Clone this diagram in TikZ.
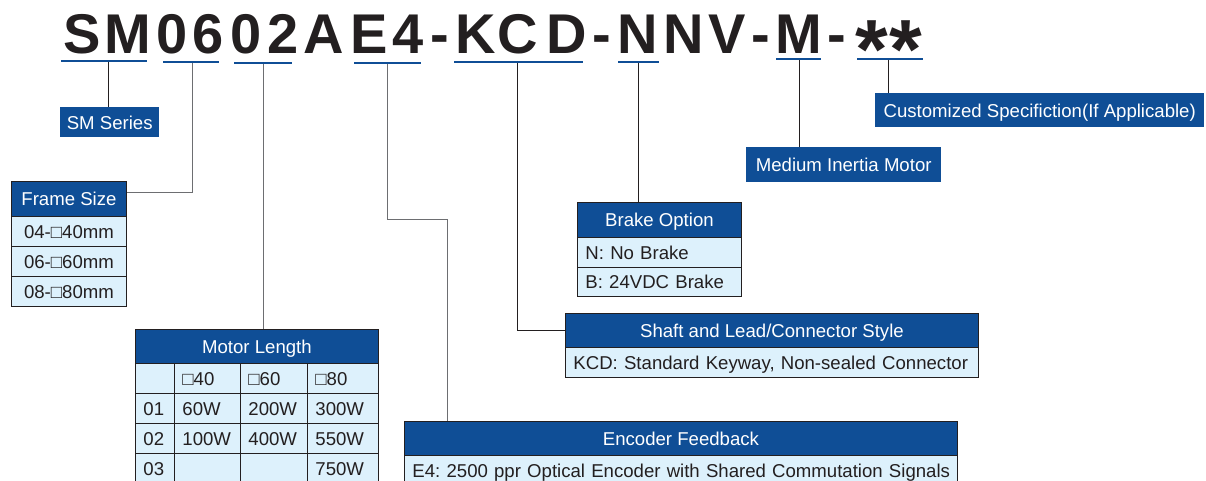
\documentclass[tikz,border=0pt]{standalone}
\usepackage{fontspec}
\setmainfont{Liberation Sans}
\frenchspacing
\definecolor{hdblue}{HTML}{0F4E96}
\definecolor{rowblue}{HTML}{DDF1FC}
\definecolor{inkclr}{HTML}{231F20}
\definecolor{wireclr}{HTML}{6D6E71}
\newcommand\sq{□}
\begin{document}
\begin{tikzpicture}[
          x=1pt, y=-1pt,
          every node/.style={inner sep=0pt, text height=14pt, text depth=0pt, font=\fontsize{18.6}{20}\selectfont},
          tchar/.style={anchor=base, text=inkclr, font=\fontsize{56}{56}\selectfont\bfseries},
          uline/.style={draw=hdblue, line width=2.6pt},
          head/.style={fill=hdblue, text=white, anchor=north west, minimum height=35pt},
          boxed/.style={draw=inkclr, line width=0.9pt},
          cell/.style={draw=inkclr, line width=0.9pt, fill=rowblue, text=inkclr, anchor=north west, minimum height=30pt, inner xsep=8pt, align=left},
          wire/.style={draw=inkclr, line width=0.9pt},
          gwire/.style={draw=wireclr, line width=0.9pt}
        ]
        \useasboundingbox (0,0) rectangle (1206,481);
        % model code
        \foreach \c/\x [count=\i] in {S/82, M/128, 0/172, 6/208, 0/246, 2/283, A/324, E/369, 4/408, -/440,
            K/476, C/518, D/567, -/602, N/638, N/684, V/727, -/761, M/799, -/837}
          \node[tchar] (ch\i) at (\x,54) {\c};
        \node[tchar, font=\fontsize{84}{84}\selectfont\bfseries] (st1) at (872,79) {*};
        \node[tchar, font=\fontsize{84}{84}\selectfont\bfseries] (st2) at (906,79) {*};
        \foreach \a/\b/\y in {61/147/61, 163/219/62, 234/292/63, 354/421/63, 454/583/62, 618/659/62, 776/821/59, 857/923/59}
          \draw[uline] (\a,\y) -- (\b,\y);
        \coordinate (pSM) at (108,62);
        \coordinate (p06) at (192,63);
        \coordinate (p02) at (263,64);
        \coordinate (pE4) at (387,64);
        \coordinate (pKCD) at (517,63);
        \coordinate (pN) at (638,63);
        \coordinate (pM) at (799,60);
        \coordinate (pST) at (888,60);
        \coordinate (kE4) at (447,219);

        % series
        \node[head, minimum width=99pt, minimum height=30pt] (sm) at (60,107) {SM Series};
        % frame size
        \node[head, boxed, minimum width=115pt] (fhead) at (11,181) {Frame Size};
        \foreach \t [count=\i] in {04-\sq40mm, 06-\sq60mm, 08-\sq80mm}
          \node[cell, text width=99pt, align=center] (f\i) at (11,186+30*\i) {\t};
        % motor length
        \node[head, boxed, minimum width=243pt, minimum height=34pt] (mhead) at (135,329) {Motor Length};
        \foreach \a/\b/\c/\d [count=\r] in {{}/\sq40/\sq60/\sq80, 01/60W/200W/300W, 02/100W/400W/550W, 03/{}/{}/750W} {
          \node[cell, text width=23pt] (m\r-a) at (135,333+30*\r) {\a};
          \node[cell, text width=50pt] (m\r-b) at (174,333+30*\r) {\b};
          \node[cell, text width=51pt] (m\r-c) at (240,333+30*\r) {\c};
          \node[cell, text width=55pt] (m\r-d) at (307,333+30*\r) {\d};
        }
        % encoder
        \node[head, boxed, minimum width=553pt, minimum height=34pt] (ehead) at (404,421) {Encoder Feedback};
        \node[cell, text width=537pt] (e1) at (404,455) {\mbox{E4: 2500 ppr Optical Encoder with Shared Commutation Signals}};
        % shaft
        \node[head, boxed, minimum width=413pt, minimum height=34pt] (shead) at (565,313) {Shaft and Lead/Connector Style};
        \node[cell, text width=397pt] (s1) at (565,347) {\mbox{KCD: Standard Keyway, Non-sealed Connector}};
        % brake
        \node[head, boxed, minimum width=164pt] (bhead) at (577,202) {Brake Option};
        \node[cell, text width=148pt] (b1) at (577,237) {N: No Brake};
        \node[cell, text width=148pt, minimum height=29pt] (b2) at (577,267) {B: 24VDC Brake};
        % inertia, custom
        \node[head, minimum width=195pt] (mim) at (746,147) {Medium Inertia Motor};
        \node[head, minimum width=329pt, minimum height=34pt] (cust) at (875,93) {Customized Specifiction(If Applicable)};

        % links
        \draw[wire] (pSM) -- (pSM |- sm.north);
        \draw[gwire] (p06) |- ([yshift=7pt]fhead.east);
        \draw[gwire] (p02) -- (p02 |- mhead.north);
        \draw[gwire] (pE4) |- (kE4) -- (kE4 |- ehead.north);
        \draw[wire] (pKCD) |- (shead.west);
        \draw[wire] (pN) -- (pN |- bhead.north);
        \draw[wire] (pM) -- (pM |- mim.north);
        \draw[wire] (pST) -- (pST |- cust.north);
      \end{tikzpicture}
\end{document}
